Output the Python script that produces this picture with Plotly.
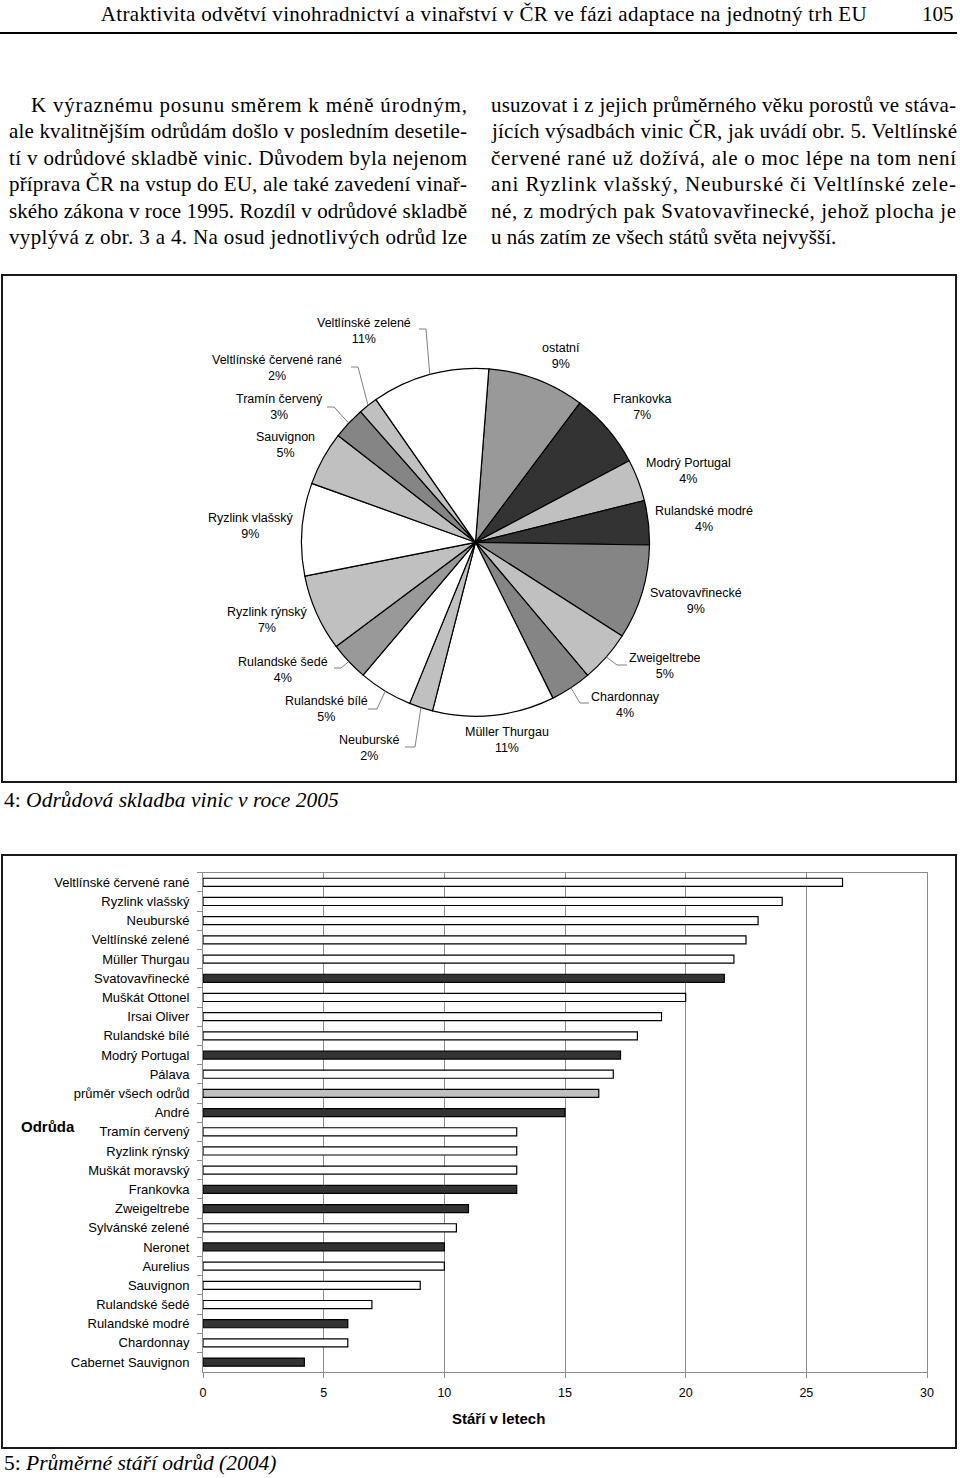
import math
import json
import plotly.graph_objects as go

W, H = 960, 1478


def px(x):
    return x / W


def py(y):
    return 1 - y / H


# ---------------- data ----------------
header_title = "Atraktivita odvětví vinohradnictví a vinařství v ČR ve fázi adaptace na jednotný trh EU"
page_number = "105"
left_column = [
    "K výraznému posunu směrem k méně úrodným,",
    "ale kvalitnějším odrůdám došlo v posledním desetile-",
    "tí v odrůdové skladbě vinic. Důvodem byla nejenom",
    "příprava ČR na vstup do EU, ale také zavedení vinař-",
    "ského zákona v roce 1995. Rozdíl v odrůdové skladbě",
    "vyplývá z obr. 3 a 4. Na osud jednotlivých odrůd lze",
]
right_column = [
    "usuzovat i z jejich průměrného věku porostů ve stáva-",
    "jících výsadbách vinic ČR, jak uvádí obr. 5. Veltlínské",
    "červené rané už dožívá, ale o moc lépe na tom není",
    "ani Ryzlink vlašský, Neuburské či Veltlínské zele-",
    "né, z modrých pak Svatovavřinecké, jehož plocha je",
    "u nás zatím ze všech států světa nejvyšší.",
]
caption_pie = "4: <i>Odrůdová skladba vinic v roce 2005</i>"
caption_bar = "5: <i>Průměrné stáří odrůd (2004)</i>"

pie_labels = ["ostatní", "Frankovka", "Modrý Portugal", "Rulandské modré",
              "Svatovavřinecké", "Zweigeltrebe", "Chardonnay", "Müller Thurgau",
              "Neuburské", "Rulandské bílé", "Rulandské šedé", "Ryzlink rýnský",
              "Ryzlink vlašský", "Sauvignon", "Tramín červený",
              "Veltlínské červené rané", "Veltlínské zelené"]
pie_values = [9.0, 7.0, 3.9, 4.1, 8.8, 4.8, 3.8, 11.3, 2.2, 5.0, 3.6, 7.1,
              8.6, 5.0, 3.0, 1.8, 10.9]
pie_pct = ["9%", "7%", "4%", "4%", "9%", "5%", "4%", "11%", "2%", "5%", "4%",
           "7%", "9%", "5%", "3%", "2%", "11%"]

bar_categories = ["Veltlínské červené rané", "Ryzlink vlašský", "Neuburské",
                  "Veltlínské zelené", "Müller Thurgau", "Svatovavřinecké",
                  "Muškát Ottonel", "Irsai Oliver", "Rulandské bílé",
                  "Modrý Portugal", "Pálava", "průměr všech odrůd", "André",
                  "Tramín červený", "Ryzlink rýnský", "Muškát moravský",
                  "Frankovka", "Zweigeltrebe", "Sylvánské zelené", "Neronet",
                  "Aurelius", "Sauvignon", "Rulandské šedé", "Rulandské modré",
                  "Chardonnay", "Cabernet Sauvignon"]
bar_values = [26.5, 24.0, 23.0, 22.5, 22.0, 21.6, 20.0, 19.0, 18.0, 17.3,
              17.0, 16.4, 15.0, 13.0, 13.0, 13.0, 13.0, 11.0, 10.5, 10.0,
              10.0, 9.0, 7.0, 6.0, 6.0, 4.2]
bar_group = ["bílá", "bílá", "bílá", "bílá", "bílá", "modrá", "bílá", "bílá",
             "bílá", "modrá", "bílá", "průměr", "modrá", "bílá", "bílá", "bílá",
             "modrá", "modrá", "bílá", "modrá", "bílá", "bílá", "bílá", "modrá",
             "bílá", "modrá"]
x_ticks = [0, 5, 10, 15, 20, 25, 30]
x_title = "Stáří v letech"
y_title = "Odrůda"

# ---------------- styles / layout ----------------
SERIF = "Liberation Serif"
SANS = "Liberation Sans"

pie_colors = ["#999999", "#333333", "#c0c0c0", "#333333", "#858585", "#c0c0c0",
              "#858585", "#ffffff", "#c0c0c0", "#ffffff", "#999999", "#c0c0c0",
              "#ffffff", "#c0c0c0", "#858585", "#c0c0c0", "#ffffff"]
group_colors = {"bílá": "#ffffff", "modrá": "#333333", "průměr": "#c0c0c0"}

pie_cx, pie_cy, pie_r = 475.5, 542.3, 174
pie_rotation = 4.4

# label block centres (pixels)
pie_label_xy = [(561, 355.5), (642, 407.5), (688, 471.5), (704, 518.5),
                (696, 600.5), (665, 666), (625, 704.5), (507, 740),
                (369, 748), (326, 709), (283, 670), (267, 620),
                (250, 526), (285, 445), (279, 406.5), (277, 368), (364, 330.5)]
# leader lines: label -> (start x, elbow x, y)
leaders = {
    "Veltlínské zelené": (419, 426, 329),
    "Veltlínské červené rané": (351, 358, 367),
    "Tramín červený": (327, 334, 407),
    "Rulandské šedé": (334, 341, 668),
    "Rulandské bílé": (368, 377, 709),
    "Neuburské": (405, 415, 747),
    "Zweigeltrebe": (627, 617, 665),
    "Chardonnay": (589, 580, 703),
}

annotations = []
shapes = []
justify = {}


def add_ann(**kw):
    annotations.append(kw)
    return len(annotations) - 1


# header
i = add_ann(text=header_title, x=px(483), y=py(14), xref="paper", yref="paper",
            xanchor="center", yanchor="middle", showarrow=False, borderpad=0,
            font=dict(family=SERIF, size=21, color="black"))
justify[str(i)] = 766
add_ann(text=page_number, x=px(955), y=py(14), xref="paper", yref="paper",
        xanchor="right", yanchor="middle", showarrow=False, borderpad=0,
        font=dict(family=SERIF, size=21, color="black"))
shapes.append(dict(type="line", xref="paper", yref="paper", x0=0, x1=px(957),
                   y0=py(33), y1=py(33), line=dict(color="black", width=2)))

# body columns
line_y = [105, 131.5, 157.5, 184, 210.5, 237]
for k, t in enumerate(left_column):
    x0 = 30 if k == 0 else 8
    i = add_ann(text=t, x=px(x0), y=py(line_y[k]), xref="paper", yref="paper",
                xanchor="left", yanchor="middle", align="left", showarrow=False,
                borderpad=0, font=dict(family=SERIF, size=21, color="black"))
    justify[str(i)] = 466 - x0
for k, t in enumerate(right_column):
    i = add_ann(text=t, x=px(490), y=py(line_y[k]), xref="paper", yref="paper",
                xanchor="left", yanchor="middle", align="left", showarrow=False,
                borderpad=0, font=dict(family=SERIF, size=21, color="black"))
    if k < len(right_column) - 1:
        justify[str(i)] = 465

# frames
shapes.append(dict(type="rect", xref="paper", yref="paper", x0=px(2), x1=px(956),
                   y0=py(782), y1=py(275), line=dict(color="#1a1a1a", width=2)))
shapes.append(dict(type="rect", xref="paper", yref="paper", x0=px(2), x1=px(956),
                   y0=py(1448), y1=py(855), line=dict(color="#1a1a1a", width=2)))

# captions
add_ann(text=caption_pie, x=px(3), y=py(800), xref="paper", yref="paper",
        xanchor="left", yanchor="middle", showarrow=False, borderpad=0,
        font=dict(family=SERIF, size=21.5, color="black"))
add_ann(text=caption_bar, x=px(3), y=py(1463), xref="paper", yref="paper",
        xanchor="left", yanchor="middle", showarrow=False, borderpad=0,
        font=dict(family=SERIF, size=21.5, color="black"))

# pie labels + leader lines (leaders end at slice mid-angle on the rim)
total = sum(pie_values)
cum = 0.0
for name, v, pct, (lx, ly) in zip(pie_labels, pie_values, pie_pct, pie_label_xy):
    mid = math.radians(pie_rotation + (cum + v / 2) / total * 360)
    cum += v
    add_ann(text=f"{name}<br>{pct}", x=px(lx), y=py(ly), xref="paper", yref="paper",
            xanchor="center", yanchor="middle", align="center", showarrow=False,
            borderpad=0, font=dict(family=SANS, size=12.5, color="black"))
    if name in leaders:
        sx, ex, yy = leaders[name]
        rx = pie_cx + pie_r * math.sin(mid)
        ry = pie_cy - pie_r * math.cos(mid)
        shapes.append(dict(type="path", xref="paper", yref="paper",
                           path=f"M {px(sx)},{py(yy)} L {px(ex)},{py(yy)} L {px(rx)},{py(ry)}",
                           line=dict(color="#808080", width=1)))

# bar chart titles
add_ann(text=f"<b>{x_title}</b>", x=px(498), y=py(1418), xref="paper", yref="paper",
        xanchor="center", yanchor="middle", showarrow=False, borderpad=0,
        font=dict(family=SANS, size=15, color="black"))
add_ann(text=f"<b>{y_title}</b>", x=px(20), y=py(1126), xref="paper", yref="paper",
        xanchor="left", yanchor="middle", showarrow=False, borderpad=0,
        font=dict(family=SANS, size=15, color="black"))

fig = go.Figure()

fig.add_trace(go.Pie(
    labels=pie_labels, values=pie_values, sort=False, direction="clockwise",
    rotation=pie_rotation, textinfo="none", textposition="none",
    marker=dict(colors=pie_colors, line=dict(color="black", width=1.2)),
    domain=dict(x=[px(pie_cx - pie_r), px(pie_cx + pie_r)],
                y=[py(pie_cy + pie_r), py(pie_cy - pie_r)]),
    showlegend=False, hoverinfo="label+value",
))

fig.add_trace(go.Bar(
    x=bar_values, y=bar_categories, orientation="h",
    marker=dict(color=[group_colors[g] for g in bar_group],
                line=dict(color="black", width=1.2)),
    width=0.42, showlegend=False, xaxis="x", yaxis="y",
))

fig.update_layout(
    width=W, height=H, margin=dict(l=0, r=0, t=0, b=0),
    template="none", paper_bgcolor="white", plot_bgcolor="white",
    font=dict(family=SANS, color="black"),
    annotations=annotations, shapes=shapes, showlegend=False,
    xaxis=dict(domain=[px(203), px(927)], range=[0, 30], tickvals=x_ticks,
               showgrid=True, gridcolor="#8c8c8c", gridwidth=1,
               showline=True, linecolor="#8c8c8c", linewidth=1, mirror=True,
               ticks="outside", ticklen=5, tickcolor="#8c8c8c",
               tickfont=dict(family=SANS, size=12.5, color="black"),
               ticklabelstandoff=4, zeroline=False, automargin=False,
               anchor="y", fixedrange=True),
    yaxis=dict(domain=[py(1371.7), py(872.7)], range=[25.5, -0.5],
               type="category", tickson="boundaries", showgrid=False,
               showline=True, linecolor="#8c8c8c", linewidth=1, mirror=True,
               ticks="outside", ticklen=5, tickcolor="#8c8c8c",
               tickfont=dict(family=SANS, size=13, color="black"),
               ticklabelstandoff=10, automargin=False, anchor="x",
               fixedrange=True),
    bargap=0.58,
)

post = """
document.body.style.margin = '0';
var J = %s;
var gd = document.getElementById('{plot_id}');
gd.querySelectorAll('g.annotation').forEach(function(g){
  var i = g.getAttribute('data-index');
  if (Object.prototype.hasOwnProperty.call(J, i)) {
    var t = g.querySelector('text.annotation-text') || g.querySelector('text');
    if (t) { t.setAttribute('textLength', J[i]); t.setAttribute('lengthAdjust', 'spacing'); }
  }
});
""" % json.dumps(justify)

fig.write_html("out.html", post_script=post,
               config={"displayModeBar": False, "staticPlot": False})
